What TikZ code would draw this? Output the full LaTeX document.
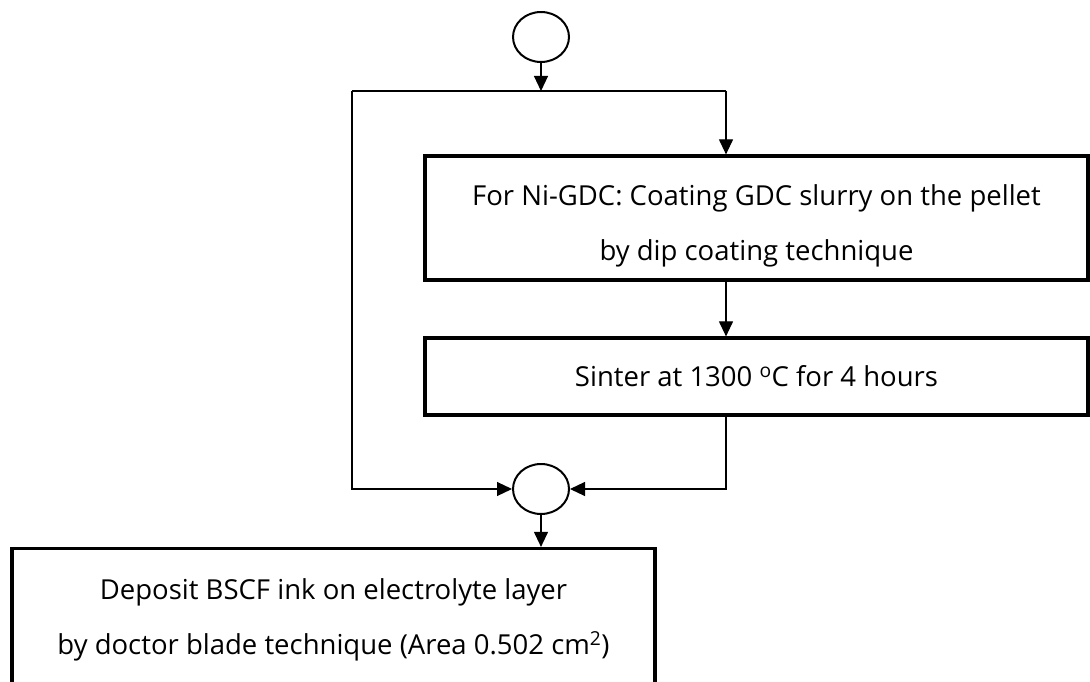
\documentclass[tikz,border=0pt]{standalone}
\usepackage{fontspec}
\setmainfont{Open Sans}
\usetikzlibrary{arrows.meta,shapes.geometric}
\begin{document}
\begin{tikzpicture}[x=1pt,y=-1pt,
  box/.style={draw,line width=3.2pt,rectangle,inner sep=0pt,align=center,font=\fontsize{27.5}{55}\selectfont},
  junction/.style={draw,ellipse,line width=2pt,minimum width=56pt,minimum height=50pt,inner sep=0pt},
  flow/.style={line width=1.1pt,-{Triangle[length=15pt,width=14pt]}},
  plain/.style={line width=1.1pt}]
\useasboundingbox (0,0) rectangle (1090,682);
\clip (0,0) rectangle (1090,682);
\node[junction] (c1) at (541,37) {};
\node[box,minimum width=663pt,minimum height=124pt] (b1) at (756.5,218)
  {\rule{0pt}{36pt}For Ni-GDC: Coating GDC slurry on the pellet\\by dip coating technique};
\node[box,minimum width=663pt,minimum height=77pt] (b2) at (756.5,376.5)
  {Sinter at 1300 \textsuperscript{o}C for 4 hours};
\node[junction] (c2) at (541,489) {};
\node[box,minimum width=643pt,minimum height=143pt] (b3) at (333.5,620)
  {Deposit BSCF ink on electrolyte layer\\by doctor blade technique (Area 0.502 cm\textsuperscript{2})};
\coordinate (split) at (541,91);
\coordinate (tl) at (352,91);
\coordinate (tr) at (726,91);
\draw[flow] (c1.south) -- (split);
\draw[plain] (tl) -- (tr);
\draw[flow] (tr) -- (tr |- b1.north);
\draw[flow] (tr |- b1.south) -- (tr |- b2.north);
\draw[flow] (tr |- b2.south) |- (c2.east);
\draw[flow] (tl) |- (c2.west);
\draw[flow] (c2.south) -- (c2.south |- b3.north);
\end{tikzpicture}
\end{document}
